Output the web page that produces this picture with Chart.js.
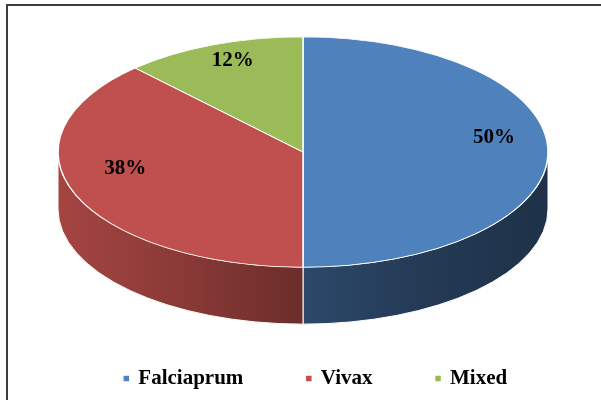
<!DOCTYPE html>
<html>
<head>
<meta charset="utf-8">
<script src="https://cdn.jsdelivr.net/npm/chart.js@4.4.1/dist/chart.umd.min.js"></script>
<style>
    html, body { margin: 0; padding: 0; background: #fff; }
    #wrap { position: relative; width: 601px; height: 400px; overflow: hidden; }
    #frame {
        position: absolute; left: 6px; top: 4px; width: 640px; height: 440px;
        border-top: 2px solid #3c3c3c; border-left: 2px solid #3c3c3c;
    }
    #pie_canvas { position: absolute; left: 0; top: 0; }
</style>
</head>
<body>
<div id="wrap">
    <div id="frame"></div>
    <canvas id="pie_canvas" width="601" height="400"></canvas>
</div>
<script>
var labels = ["Falciaprum", "Vivax", "Mixed"];
var values = [50, 38, 12];
var colors = ["#4F81BD", "#C0504D", "#9BBB59"];

var font_family = "'Liberation Serif', 'Times New Roman', serif";

function shade(hex, k){
    var r = parseInt(hex.substr(1, 2), 16);
    var g = parseInt(hex.substr(3, 2), 16);
    var b = parseInt(hex.substr(5, 2), 16);
    return 'rgb(' + Math.round(r * k) + ',' + Math.round(g * k) + ',' + Math.round(b * k) + ')';
}

// tilts the pie into an ellipse and draws the visible side wall under it
var pie3d = {
    id: 'pie3d',
    beforeDatasetsDraw: function(chart, args, opts){
        var ctx = chart.ctx;
        var arcs = chart.getDatasetMeta(0).data;
        var bg = chart.data.datasets[0].backgroundColor;
        var cx = arcs[0].x, cy = arcs[0].y, r = arcs[0].outerRadius;
        var ry = r * opts.tilt;

        arcs.forEach(function(arc, i){
            for(var k = -1; k <= 1; k++){
                var a = Math.max(arc.startAngle, 2 * Math.PI * k);
                var b = Math.min(arc.endAngle, 2 * Math.PI * k + Math.PI);
                if(b <= a) continue;
                var grad = ctx.createLinearGradient(cx - r, 0, cx + r, 0);
                opts.shades.forEach(function(s){
                    grad.addColorStop(s[0], shade(bg[i], s[1]));
                });
                ctx.beginPath();
                ctx.ellipse(cx, cy, r, ry, 0, a, b);
                ctx.ellipse(cx, cy + opts.depth, r, ry, 0, b, a, true);
                ctx.closePath();
                ctx.fillStyle = grad;
                ctx.fill();
                ctx.strokeStyle = '#fff';
                ctx.lineWidth = 1;
                ctx.stroke();
            }
        });

        ctx.save();
        ctx.translate(cx, cy);
        ctx.scale(1, opts.tilt);
        ctx.translate(-cx, -cy);
    },
    afterDatasetsDraw: function(chart, args, opts){
        var ctx = chart.ctx;
        ctx.restore();

        var arcs = chart.getDatasetMeta(0).data;
        var data = chart.data.datasets[0].data;
        var total = data.reduce(function(s, v){ return s + v; }, 0);
        ctx.save();
        ctx.font = 'bold 21px ' + font_family;
        ctx.fillStyle = '#000';
        ctx.textAlign = 'center';
        ctx.textBaseline = 'middle';
        arcs.forEach(function(arc, i){
            var mid = (arc.startAngle + arc.endAngle) / 2;
            var x = arc.x + Math.cos(mid) * arc.outerRadius * opts.labelFx;
            var y = arc.y + Math.sin(mid) * arc.outerRadius * opts.tilt * opts.labelFy + opts.labelLift;
            ctx.fillText(Math.round(data[i] / total * 100) + '%', x, y);
        });
        ctx.restore();
    }
};

var legendShift = {
    id: 'legendShift',
    afterLayout: function(chart, args, opts){
        chart.legend.left += opts.dx;
        chart.legend.right += opts.dx;
    }
};

function draw_pie(){
    new Chart(document.getElementById('pie_canvas'), {
        type: 'pie',
        data: {
            labels: labels,
            datasets: [{
                data: values,
                backgroundColor: colors,
                borderColor: '#fff',
                borderWidth: 1.5,
                clip: false
            }]
        },
        options: {
            responsive: false,
            animation: false,
            events: [],
            radius: 245,
            layout: { padding: { top: 0, left: 5, right: 0, bottom: 1 } },
            plugins: {
                tooltip: { enabled: false },
                legend: {
                    position: 'bottom',
                    labels: {
                        usePointStyle: true,
                        pointStyle: 'rect',
                        boxWidth: 3,
                        boxHeight: 7,
                        padding: 64,
                        color: '#000',
                        font: { family: font_family, size: 21, weight: 'bold' }
                    }
                },
                legendShift: { dx: 13 },
                pie3d: {
                    tilt: 0.47,
                    depth: 57,
                    shades: [[0, 0.86], [0.25, 0.72], [0.5, 0.56], [0.75, 0.45], [1, 0.38]],
                    labelFx: 0.78,
                    labelFy: 0.72,
                    labelLift: -14
                }
            }
        },
        plugins: [pie3d, legendShift]
    });
}

draw_pie();
</script>
</body>
</html>
